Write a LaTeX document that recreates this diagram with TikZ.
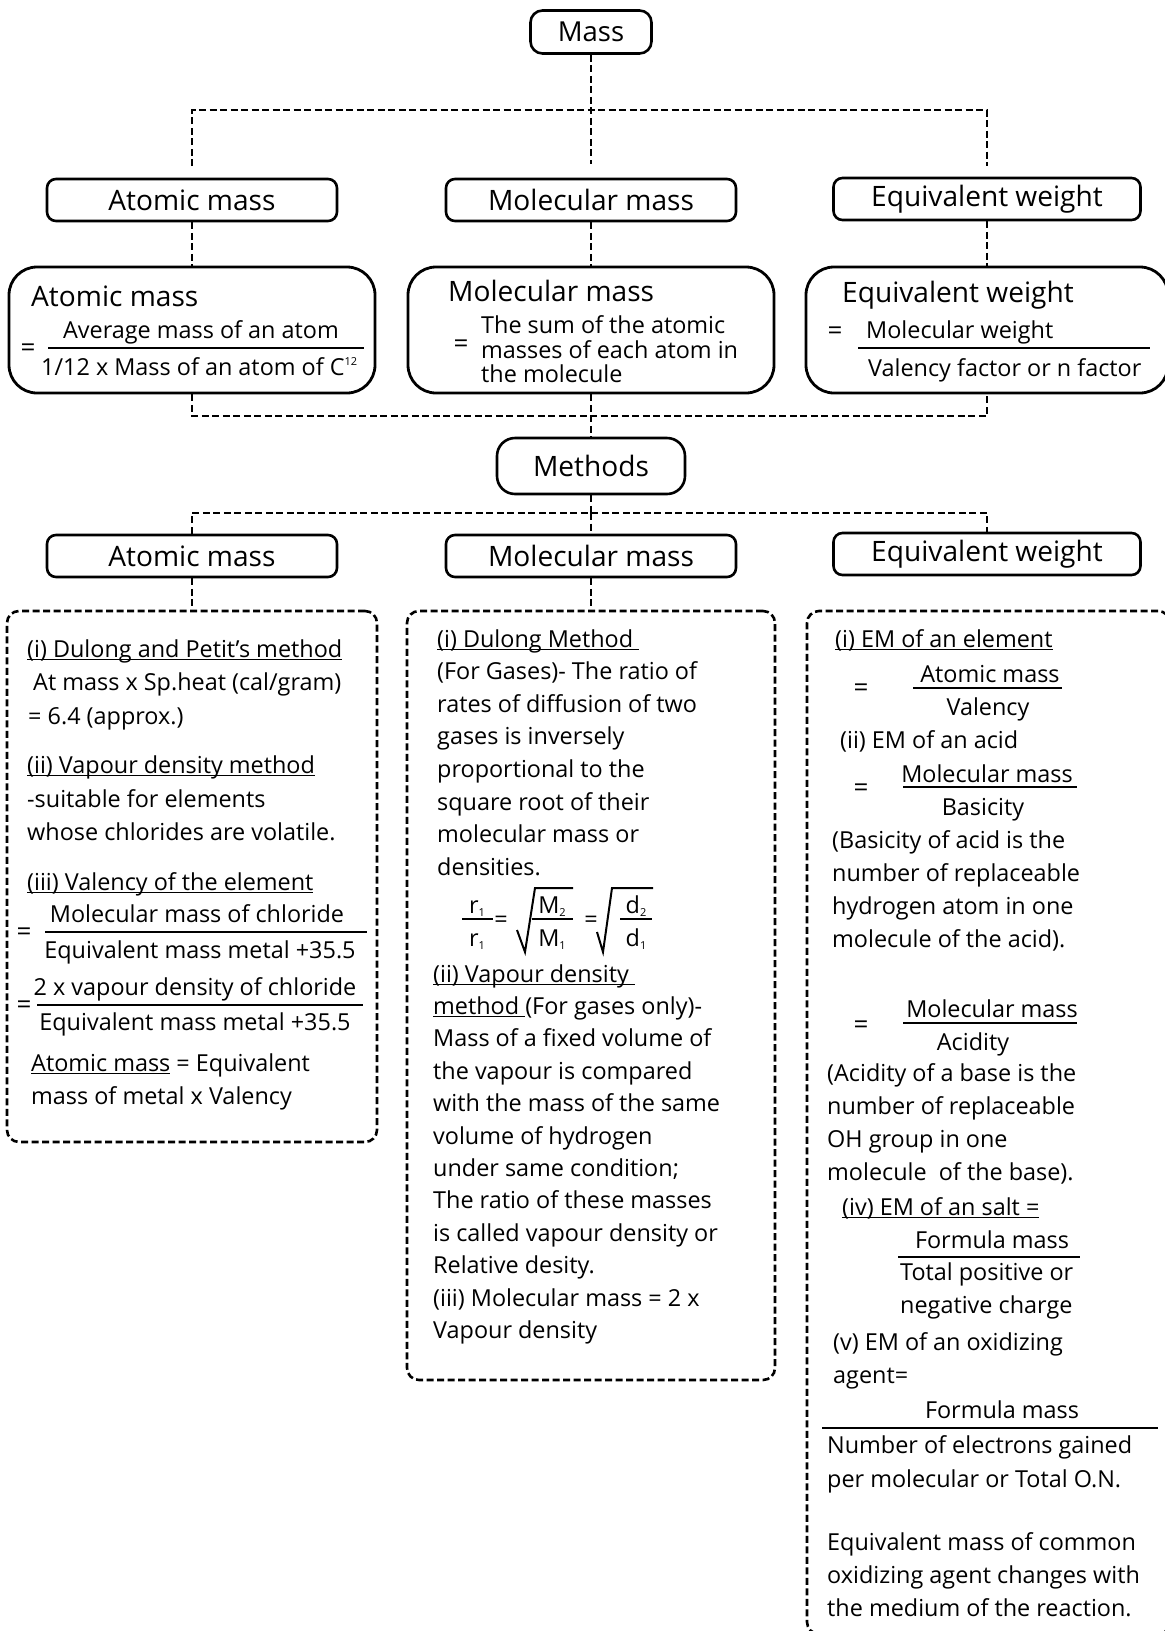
\documentclass[tikz,border=0pt]{standalone}
\usepackage{fontspec}
\setmainfont{Open Sans}
\newcommand{\bodyf}{\fontsize{23.4}{27}\selectfont}
\newcommand{\headf}{\fontsize{28.1}{32}\selectfont}
\newcommand{\massf}{\fontsize{27.5}{32}\selectfont}
\newcommand{\eqf}{\fontsize{26}{30}\selectfont}
\newcommand{\subf}{\fontsize{11}{12}\selectfont}
\newsavebox{\myulbox}
\newcommand{\myul}[1]{\sbox{\myulbox}{#1}\rlap{\rule[-3pt]{\wd\myulbox}{1.3pt}}\usebox{\myulbox}}
\newcommand{\mysub}[1]{\raisebox{-3pt}{\subf #1}}
\newcommand{\mysup}[1]{\raisebox{10pt}{\subf #1}}
\begin{document}
\begin{tikzpicture}[x=1pt,y=-1pt,
  tx/.style={anchor=base west, inner sep=0pt, font=\bodyf},
  txc/.style={anchor=base, inner sep=0pt, font=\bodyf},
  eqs/.style={anchor=base, inner sep=0pt, font=\eqf},
  hd/.style={anchor=base west, inner sep=0pt, font=\headf},
  topbox/.style={draw, line width=2.6pt, rounded corners=9pt, minimum height=42pt, inner sep=0pt, font=\headf},
  bigbox/.style={draw, line width=2.8pt, rounded corners=28pt, minimum height=126pt, minimum width=366pt, inner sep=0pt},
  detbox/.style={draw, line width=2.6pt, dash pattern=on 7pt off 3.5pt, rounded corners=12pt, inner sep=0pt},
  conn/.style={line width=2.4pt, dash pattern=on 7pt off 3.5pt},
  frac/.style={line width=2.6pt},
  fline/.style={line width=2pt},
]
\useasboundingbox (0,0) rectangle (1165,1631);
\clip (0,0) rectangle (1165,1631);

% ---------- top ----------
\node[topbox, font=\massf, minimum width=121pt, minimum height=43pt, rounded corners=12pt] (mass) at (591,32) {Mass};

\node[topbox, minimum width=290pt] (atom1) at (192,200) {Atomic mass};
\node[topbox, minimum width=290pt] (mol1) at (591,200) {Molecular mass};
\node[topbox, minimum width=307pt] (eq1) at (987,199) {Equivalent weight};

\node[bigbox] (atom2) at (192,330) {};
\node[bigbox] (mol2) at (591,330) {};
\node[bigbox, minimum width=362pt] (eq2) at (987,330) {};

\node[topbox, minimum width=188pt, minimum height=56pt, rounded corners=18pt] (meth) at (591,466) {Methods};

\node[topbox, minimum width=290pt] (atom3) at (192,556) {Atomic mass};
\node[topbox, minimum width=290pt] (mol3) at (591,556) {Molecular mass};
\node[topbox, minimum width=307pt] (eq3) at (987,554) {Equivalent weight};

\node[detbox, minimum width=370pt, minimum height=531pt] (det1) at (192,876.5) {};
\node[detbox, minimum width=368pt, minimum height=769pt] (det2) at (591,995.5) {};
\node[detbox, minimum width=363pt, minimum height=1023pt] (det3) at (988.5,1122.5) {};

% ---------- connectors ----------
\coordinate (c0) at (591,164);
\coordinate (bL1) at (192,110);
\coordinate (bR1) at (987,110);
\coordinate (eL1) at (192,166);
\coordinate (eR1) at (987,166);
\draw[conn] (mass.south) -- (c0);
\draw[conn] (eL1) -- (bL1) -- (bR1) -- (eR1);
\draw[conn] (atom1.south) -- (atom2.north);
\draw[conn] (mol1.south) -- (mol2.north);
\draw[conn] (eq1.south) -- (eq2.north);
\coordinate (bL2) at (192,416);
\coordinate (bR2) at (987,416);
\draw[conn] (atom2.south) -- (bL2) -- (bR2) -- (eq2.south);
\draw[conn] (mol2.south) -- (meth.north);
\coordinate (c3) at (591,513);
\coordinate (bL3) at (192,513);
\coordinate (bR3) at (987,513);
\draw[conn] (meth.south) -- (c3);
\draw[conn] (atom3.north) -- (bL3) -- (bR3) -- (eq3.north);
\draw[conn] (c3) -- (mol3.north);
\draw[conn] (atom3.south) -- (det1.north);
\draw[conn] (mol3.south) -- (det2.north);

% ---------- row 2 contents ----------
\node[hd] (a2h) at (31,306) {Atomic mass};
\node[eqs] (a2eq) at (28,356) {=};
\node[txc] (a2n) at (201,338) {Average mass of an atom};
\draw[frac] (48,348) -- (364,348);
\node[tx] (a2d) at (41,375) {1/12 x Mass of an atom of C\mysup{12}};

\node[hd] (m2h) at (448,301) {Molecular mass};
\node[eqs] (m2eq) at (461,352) {=};
\node[tx] (m2l1) at (481,333) {The sum of the atomic};
\node[tx] (m2l2) at (481,358) {masses of each atom in};
\node[tx] (m2l3) at (481,382) {the molecule};

\node[hd] (e2h) at (842,302) {Equivalent weight};
\node[eqs] (e2eq) at (835,339) {=};
\node[tx] (e2n) at (866,338) {Molecular weight};
\draw[frac] (858,348) -- (1150,348);
\node[tx] (e2d) at (868,376) {Valency factor or n factor};

% ---------- detail 1 ----------
\node[tx] (d1a) at (27,657) {\myul{(i) Dulong and Petit’s method}};
\node[tx] (d1b) at (33,690) {At mass x Sp.heat (cal/gram)};
\node[tx] (d1c) at (28,724) {= 6.4 (approx.)};
\node[tx] (d1d) at (27,773) {\myul{(ii) Vapour density method}};
\node[tx] (d1e) at (27,807) {-suitable for elements};
\node[tx] (d1f) at (27,840) {whose chlorides are volatile.};
\node[tx] (d1g) at (27,890) {\myul{(iii) Valency of the element}};
\node[txc] (d1h) at (197,922) {Molecular mass of chloride};
\node[eqs] (d1eq1) at (24,940) {=};
\draw[frac] (45,932) -- (367,932);
\node[txc] (d1i) at (200,958) {Equivalent mass metal +35.5};
\node[txc] (d1j) at (195,995) {2 x vapour density of chloride};
\node[eqs] (d1eq2) at (24,1013) {=};
\draw[frac] (37,1005) -- (363,1005);
\node[txc] (d1k) at (195,1030) {Equivalent mass metal +35.5};
\node[tx] (d1l) at (31,1071) {\myul{Atomic mass} = Equivalent};
\node[tx] (d1m) at (31,1104) {mass of metal x Valency};

% ---------- detail 2 ----------
\node[tx] (d2a) at (437,647) {\myul{(i) Dulong Method\ }};
\node[tx] (d2b) at (437,679.6) {(For Gases)- The ratio of};
\node[tx] (d2c) at (437,712.2) {rates of diffusion of two};
\node[tx] (d2d) at (437,744.8) {gases is inversely};
\node[tx] (d2e) at (437,777.4) {proportional to the};
\node[tx] (d2f) at (437,810) {square root of their};
\node[tx] (d2g) at (437,842.6) {molecular mass or};
\node[tx] (d2h) at (437,875.2) {densities.};

\node[txc] (fr1) at (477,913) {r\mysub{1}};
\draw[fline] (462,919) -- (493,919);
\node[txc] (fr2) at (477,946) {r\mysub{1}};
\node[txc] (feq1) at (501,927) {=};
\draw[fline] (517,930) -- (525,952) -- (535,888) -- (573,888);
\node[txc] (fM2) at (552,913) {M\mysub{2}};
\draw[fline] (532,919) -- (573,919);
\node[txc] (fM1) at (552,946) {M\mysub{1}};
\node[txc] (feq2) at (591,927) {=};
\draw[fline] (597,932) -- (603,952) -- (612,888) -- (653,888);
\node[txc] (fd2) at (636,913) {d\mysub{2}};
\draw[fline] (620,919) -- (652,919);
\node[txc] (fd1) at (636,946) {d\mysub{1}};

\node[tx] (d2j) at (433,982) {\myul{(ii) Vapour density\ }};
\node[tx] (d2k) at (433,1014.4) {\myul{method\ }(For gases only)-};
\node[tx] (d2l) at (433,1046.8) {Mass of a fixed volume of};
\node[tx] (d2m) at (433,1079.2) {the vapour is compared};
\node[tx] (d2n) at (433,1111.6) {with the mass of the same};
\node[tx] (d2o) at (433,1144) {volume of hydrogen};
\node[tx] (d2p) at (433,1176.4) {under same condition;};
\node[tx] (d2q) at (433,1208.8) {The ratio of these masses};
\node[tx] (d2r) at (433,1241.2) {is called vapour density or};
\node[tx] (d2s) at (433,1273.6) {Relative desity.};
\node[tx] (d2t) at (433,1306) {(iii) Molecular mass = 2 x};
\node[tx] (d2u) at (433,1338.4) {Vapour density};

% ---------- detail 3 ----------
\node[tx] (d3a) at (835,647) {\myul{(i) EM of an element}};
\node[eqs] (d3eq1) at (861,696) {=};
\node[txc] (d3b) at (990,682) {Atomic mass};
\draw[frac] (913,688) -- (1062,688);
\node[txc] (d3c) at (988,715) {Valency};
\node[tx] (d3d) at (840,748) {(ii) EM of an acid};
\node[eqs] (d3eq2) at (861,796) {=};
\node[txc] (d3e) at (987,782) {Molecular mass};
\draw[frac] (903,787) -- (1077,787);
\node[txc] (d3f) at (983,815) {Basicity};
\node[tx] (d3g) at (832,848) {(Basicity of acid is the};
\node[tx] (d3g2) at (832,881) {number of replaceable};
\node[tx] (d3g3) at (832,914) {hydrogen atom in one};
\node[tx] (d3g4) at (832,947) {molecule of the acid).};
\node[eqs] (d3eq3) at (861,1033) {=};
\node[txc] (d3h) at (992,1017) {Molecular mass};
\draw[frac] (903,1023) -- (1077,1023);
\node[txc] (d3i) at (973,1050) {Acidity};
\node[tx] (d3j) at (827,1081) {(Acidity of a base is the};
\node[tx] (d3k) at (827,1114) {number of replaceable};
\node[tx] (d3l) at (827,1147) {OH group in one};
\node[tx] (d3m) at (827,1180) {molecule\ \ of the base).};
\node[tx] (d3n) at (842,1215) {\myul{(iv) EM of an salt =}};
\node[txc] (d3o) at (992,1248) {Formula mass};
\draw[frac] (898,1257) -- (1080,1257);
\node[tx] (d3p) at (900,1280) {Total positive or};
\node[tx] (d3q) at (900,1313) {negative charge};
\node[tx] (d3r) at (833,1350) {(v) EM of an oxidizing};
\node[tx] (d3s) at (833,1383) {agent=};
\node[txc] (d3t) at (1002,1418) {Formula mass};
\draw[frac] (822,1428) -- (1158,1428);
\node[tx] (d3u) at (827,1453) {Number of electrons gained};
\node[tx] (d3v) at (827,1487) {per molecular or Total O.N.};
\node[tx] (d3w) at (827,1550) {Equivalent mass of common};
\node[tx] (d3x) at (827,1583) {oxidizing agent changes with};
\node[tx] (d3y) at (827,1616) {the medium of the reaction.};
\end{tikzpicture}
\end{document}
